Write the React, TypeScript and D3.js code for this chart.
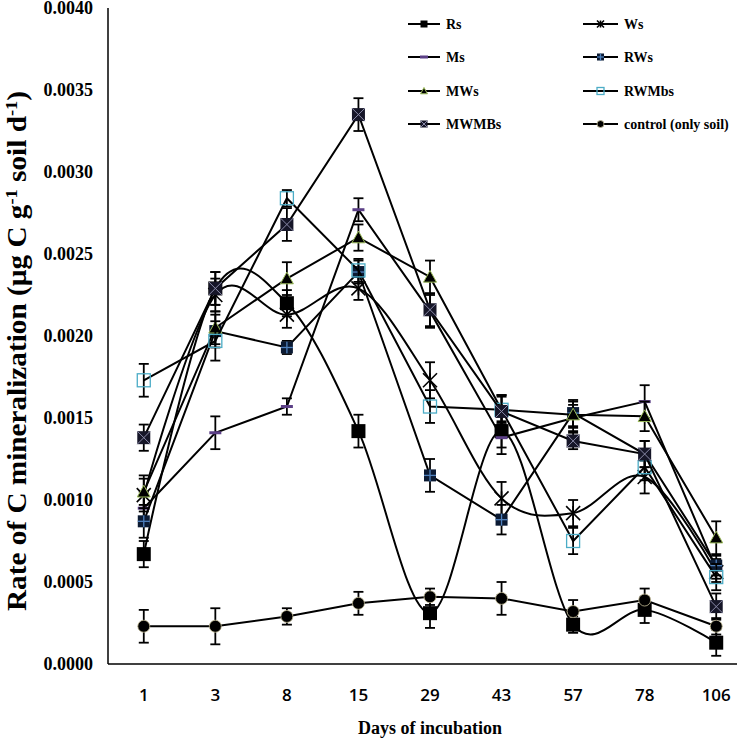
import React from "react";
import * as d3 from "d3";

const days = ["1", "3", "8", "15", "29", "43", "57", "78", "106"];
const yTicks = [0, 0.0005, 0.001, 0.0015, 0.002, 0.0025, 0.003, 0.0035, 0.004];

const rs = [0.00067, 0.00229, 0.0022, 0.00142, 0.00031, 0.00142, 0.00024, 0.00033, 0.00013];
const rsErr = [0.00008, 0.0001, 0.00008, 0.0001, 0.00009, 0.0001, 0.00005, 0.00008, 0.00008];
const ws = [0.00103, 0.00225, 0.00213, 0.00229, 0.00173, 0.00101, 0.00092, 0.00114, 0.00056];
const wsErr = [0.0001, 0.0001, 0.00008, 0.00007, 0.00011, 0.0001, 0.00008, 0.0001, 0.00006];
const ms = [0.00095, 0.00141, 0.00157, 0.00277, 0.00215, 0.00138, 0.0015, 0.0016, 0.00058];
const msErr = [0.0001, 0.0001, 0.00005, 0.00007, 0.0001, 0.0001, 0.00008, 0.0001, 0.00006];
const rws = [0.00087, 0.00203, 0.00193, 0.00239, 0.00115, 0.00088, 0.00153, 0.00128, 0.0006];
const rwsErr = [0.0001, 0.0001, 0.00004, 0.00007, 0.0001, 0.00009, 0.00008, 0.00008, 0.00006];
const mws = [0.00105, 0.00205, 0.00235, 0.0026, 0.00236, 0.00155, 0.00152, 0.00151, 0.00077];
const mwsErr = [0.0001, 0.0001, 0.0001, 0.00008, 0.0001, 0.00008, 0.00008, 0.00009, 0.0001];
const rwmbs = [0.00173, 0.00197, 0.00284, 0.0024, 0.00157, 0.00155, 0.00075, 0.0012, 0.00053];
const rwmbsErr = [0.0001, 0.00012, 0.00005, 0.00007, 0.0001, 0.00009, 0.00008, 0.00008, 0.00008];
const mwmbs = [0.00138, 0.00229, 0.00268, 0.00335, 0.00216, 0.00154, 0.00136, 0.00128, 0.00035];
const mwmbsErr = [0.00008, 0.0001, 0.0001, 0.0001, 0.0001, 0.0001, 0.00005, 0.00008, 0.00008];
const control = [0.00023, 0.00023, 0.00029, 0.00037, 0.00041, 0.0004, 0.00032, 0.00039, 0.00023];
const controlErr = [0.0001, 0.00011, 0.00005, 0.00007, 0.00005, 0.0001, 0.00007, 0.00007, 0.00005];

type Series = { name: string; values: number[]; err: number[]; marker: string; smooth: boolean };

const series: Series[] = [
  { name: "Rs", values: rs, err: rsErr, marker: "square", smooth: true },
  { name: "Ws", values: ws, err: wsErr, marker: "star", smooth: true },
  { name: "Ms", values: ms, err: msErr, marker: "dash", smooth: false },
  { name: "RWs", values: rws, err: rwsErr, marker: "plusSquare", smooth: false },
  { name: "MWs", values: mws, err: mwsErr, marker: "triangle", smooth: false },
  { name: "RWMbs", values: rwmbs, err: rwmbsErr, marker: "openSquare", smooth: false },
  { name: "MWMBs", values: mwmbs, err: mwmbsErr, marker: "xSquare", smooth: false },
  { name: "control (only soil)", values: control, err: controlErr, marker: "circle", smooth: false },
];

const W = 737;
const H = 740;
const x = d3.scalePoint<string>().domain(days).range([108, 752]).padding(0.5);
const y = d3.scaleLinear().domain([0, 0.004]).range([664, 8]);

function Marker({ type, cx, cy, s }: { type: string; cx: number; cy: number; s: number }) {
  const h = s / 2;
  switch (type) {
    case "square":
      return <rect x={cx - h} y={cy - h} width={s} height={s} fill="#000" />;
    case "star":
      return (
        <g stroke="#000" strokeWidth={1.6}>
          <line x1={cx - h} y1={cy - h} x2={cx + h} y2={cy + h} />
          <line x1={cx - h} y1={cy + h} x2={cx + h} y2={cy - h} />
          <line x1={cx} y1={cy - h} x2={cx} y2={cy + h} />
        </g>
      );
    case "dash":
      return <rect x={cx - h} y={cy - 1.5} width={s} height={3} fill="#5b3f86" />;
    case "plusSquare":
      return (
        <g>
          <rect x={cx - h} y={cy - h} width={s} height={s} fill="#0b1a33" />
          <line x1={cx - h} y1={cy} x2={cx + h} y2={cy} stroke="#4f81bd" strokeWidth={1.3} />
          <line x1={cx} y1={cy - h} x2={cx} y2={cy + h} stroke="#4f81bd" strokeWidth={1.3} />
        </g>
      );
    case "triangle":
      return (
        <path
          d={`M${cx},${cy - h}L${cx + h},${cy + h * 0.8}L${cx - h},${cy + h * 0.8}Z`}
          fill="#000"
          stroke="#9bbb59"
          strokeWidth={1}
        />
      );
    case "openSquare":
      return <rect x={cx - h} y={cy - h} width={s} height={s} fill="none" stroke="#4bacc6" strokeWidth={1.3} />;
    case "xSquare":
      return (
        <g>
          <rect x={cx - h} y={cy - h} width={s} height={s} fill="#161628" />
          <line x1={cx - h} y1={cy - h} x2={cx + h} y2={cy + h} stroke="#8a8aa8" strokeWidth={1} />
          <line x1={cx - h} y1={cy + h} x2={cx + h} y2={cy - h} stroke="#8a8aa8" strokeWidth={1} />
        </g>
      );
    case "circle":
      return <circle cx={cx} cy={cy} r={h} fill="#000" stroke="#c4bd97" strokeWidth={0.8} />;
  }
  return null;
}

const markerSize: Record<string, number> = {
  square: 14,
  star: 14,
  dash: 12,
  plusSquare: 12,
  triangle: 13,
  openSquare: 13,
  xSquare: 13,
  circle: 12,
};

export default function App() {
  const legendRows = [24, 57, 91, 124];
  const legendCols = [408, 583];
  return (
    <svg width={W} height={H} style={{ position: "absolute", left: 0, top: 0, background: "#fff" }}>
      {/* axes */}
      <line x1={108} y1={8} x2={108} y2={664} stroke="#000" strokeWidth={1.5} />
      <line x1={108} y1={664} x2={737} y2={664} stroke="#000" strokeWidth={1.5} />
      {yTicks.map((t) => (
        <text
          key={t}
          x={93}
          y={Math.max(y(t) + 6, 13)}
          textAnchor="end"
          fontFamily="'Liberation Serif', serif"
          fontWeight="bold"
          fontSize={18}
        >
          {t.toFixed(4)}
        </text>
      ))}
      {days.map((d) => (
        <text
          key={d}
          x={x(d)}
          y={701}
          textAnchor="middle"
          fontFamily="'Open Sans', sans-serif"
          fontWeight={600}
          fontSize={17}
        >
          {d}
        </text>
      ))}
      <text
        x={430}
        y={734}
        textAnchor="middle"
        fontFamily="'Liberation Serif', serif"
        fontWeight="bold"
        fontSize={18}
      >
        Days of incubation
      </text>
      <text
        transform="translate(26,351) rotate(-90)"
        textAnchor="middle"
        fontFamily="'Liberation Serif', serif"
        fontWeight="bold"
        fontSize={27}
        textLength={520}
        lengthAdjust="spacingAndGlyphs"
      >
        Rate of C mineralization (µg C g
        <tspan dy={-9} fontSize={17}>
          -1
        </tspan>
        <tspan dy={9}> soil d</tspan>
        <tspan dy={-9} fontSize={17}>
          -1
        </tspan>
        <tspan dy={9}>)</tspan>
      </text>

      {/* series */}
      {series.map((s) => {
        const line = d3
          .line<number>()
          .x((_, i) => x(days[i]) as number)
          .y((v) => y(v))
          .curve(s.smooth ? d3.curveCardinal.tension(0) : d3.curveLinear);
        return (
          <g key={s.name}>
            <path d={line(s.values) ?? ""} fill="none" stroke="#000" strokeWidth={2} />
            {s.values.map((v, i) => {
              const cx = x(days[i]) as number;
              const y1 = y(v + s.err[i]);
              const y2 = y(v - s.err[i]);
              return (
                <g key={i} stroke="#000" strokeWidth={1.8}>
                  <line x1={cx} y1={y1} x2={cx} y2={y2} />
                  <line x1={cx - 5} y1={y1} x2={cx + 5} y2={y1} />
                  <line x1={cx - 5} y1={y2} x2={cx + 5} y2={y2} />
                </g>
              );
            })}
            {s.values.map((v, i) => (
              <Marker key={"m" + i} type={s.marker} cx={x(days[i]) as number} cy={y(v)} s={markerSize[s.marker]} />
            ))}
          </g>
        );
      })}

      {/* legend */}
      {series.map((s, i) => {
        const col = i % 2;
        const row = Math.floor(i / 2);
        const lx = legendCols[col];
        const ly = legendRows[row];
        const len = col === 0 ? 32 : 35;
        return (
          <g key={"lg" + s.name}>
            <line x1={lx} y1={ly} x2={lx + len} y2={ly} stroke="#000" strokeWidth={2} />
            <Marker type={s.marker} cx={lx + len / 2} cy={ly} s={s.marker === "dash" ? 8 : 7} />
            <text
              x={lx + len + 6}
              y={ly + 5}
              fontFamily="'Liberation Serif', serif"
              fontWeight="bold"
              fontSize={14}
            >
              {s.name}
            </text>
          </g>
        );
      })}
    </svg>
  );
}
